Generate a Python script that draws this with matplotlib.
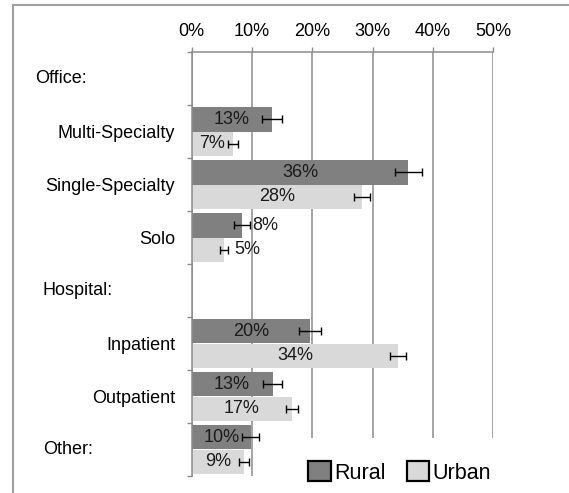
import matplotlib
matplotlib.use("Agg")
import matplotlib.pyplot as plt
import matplotlib.transforms as mtransforms
from matplotlib.patches import Patch, Rectangle
from matplotlib.lines import Line2D

plt.rcParams["font.family"] = ["Liberation Sans", "DejaVu Sans"]

# ---- data ------------------------------------------------------------------
rows = ["Office:", "Multi-Specialty", "Single-Specialty", "Solo",
        "Hospital:", "Inpatient", "Outpatient", "Other:"]
headers = ["Office:", "Hospital:", "Other:"]
bar_rows = ["Multi-Specialty", "Single-Specialty", "Solo",
            "Inpatient", "Outpatient", "Other:"]
rural = [13.3, 35.9, 8.3, 19.6, 13.4, 9.8]
urban = [6.9, 28.2, 5.4, 34.2, 16.6, 8.7]
rural_err = [1.6, 2.25, 1.3, 1.85, 1.55, 1.4]
urban_err = [0.8, 1.35, 0.65, 1.4, 1.0, 0.85]
outside_label = ["Solo"]          # labels drawn past the bar end
xticks = [0, 10, 20, 30, 40, 50]

C_RURAL, C_URBAN = "#808080", "#d9d9d9"
GRID = "#8c8c8c"
W, H = 569, 493

fig = plt.figure(figsize=(W / 100, H / 100), dpi=100)
ax = fig.add_axes([191.7 / W, 1 - 476 / H, 301.6 / W, 424 / H])

ypos = [rows.index(r) for r in bar_rows]
h, off = 0.46, 0.23
y_r = [y - off for y in ypos]
y_u = [y + off for y in ypos]

ax.barh(y_r, rural, height=h, color=C_RURAL, zorder=2)
ax.barh(y_u, urban, height=h, color=C_URBAN, zorder=2)
ax.errorbar(rural, y_r, xerr=rural_err, fmt="none", ecolor="black",
            elinewidth=1.0, capsize=2.9, capthick=1.0, zorder=3)
ax.errorbar(urban, y_u, xerr=urban_err, fmt="none", ecolor="black",
            elinewidth=1.0, capsize=2.9, capthick=1.0, zorder=3)

for name, yr, yu, r, u in zip(bar_rows, y_r, y_u, rural, urban):
    for y, v in ((yr, r), (yu, u)):
        txt = f"{round(v)}%"
        if name in outside_label:
            ax.text(v + 1.7, y, txt, ha="left", va="center",
                    fontsize=13, color="#1a1a1a", zorder=4)
        else:
            ax.text(v / 2, y, txt, ha="center", va="center",
                    fontsize=13, color="#1a1a1a", zorder=4)

# ---- axes ------------------------------------------------------------------
ax.set_xlim(0, 50)
ax.set_ylim(len(rows) - 0.5, -0.5)
ax.xaxis.tick_top()
ax.set_xticks(xticks)
ax.set_xticklabels([f"{v}%" for v in xticks], fontsize=13)
ax.tick_params(axis="x", length=3.6, width=1.0, color=GRID, pad=5)

ax.set_yticks(range(len(rows)))
ax.set_yticklabels([r if r not in headers else "" for r in rows], fontsize=13)
ax.set_yticks([i - 0.5 for i in range(len(rows) + 1)], minor=True)
ax.tick_params(axis="y", which="major", length=0, pad=12)
ax.tick_params(axis="y", which="minor", length=3.6, width=1.0, color=GRID)

ax.set_axisbelow(True)
ax.grid(axis="x", color=GRID, lw=1.1)
for s in ("right", "bottom"):
    ax.spines[s].set_visible(False)
for s in ("top", "left"):
    ax.spines[s].set_color(GRID)
    ax.spines[s].set_linewidth(1.1)

# group headers, left aligned
tr = mtransforms.blended_transform_factory(fig.transFigure, ax.transData)
for name, px in zip(headers, [35, 43, 43]):
    ax.text(px / W, rows.index(name), name, transform=tr, ha="left",
            va="center", fontsize=13)

# white patch behind the legend hides the gridlines
ax.add_patch(Rectangle((0.36, 0.0), 0.7, 38 / 424, transform=ax.transAxes,
                       fc="white", ec="none", zorder=1, clip_on=False))

handles = [Patch(fc=C_RURAL, ec="black", lw=1.6, label="Rural"),
           Patch(fc=C_URBAN, ec="black", lw=1.6, label="Urban")]
fig.legend(handles=handles, loc="center left",
           bbox_to_anchor=(308 / W, 1 - 472.4 / H), ncol=2, frameon=False,
           fontsize=15.5, handlelength=1.05, handleheight=1.05,
           handletextpad=0.15, columnspacing=1.0, borderpad=0,
           borderaxespad=0)

# printed frame: top and left edges only
fig.add_artist(Line2D([13 / W, 13 / W], [0, 1 - 5 / H], color="#a0a0a0",
                      lw=1.5, transform=fig.transFigure))
fig.add_artist(Line2D([13 / W, 1], [1 - 5 / H, 1 - 5 / H], color="#a0a0a0",
                      lw=1.5, transform=fig.transFigure))

fig.savefig("out.png", dpi=100, facecolor="white")
